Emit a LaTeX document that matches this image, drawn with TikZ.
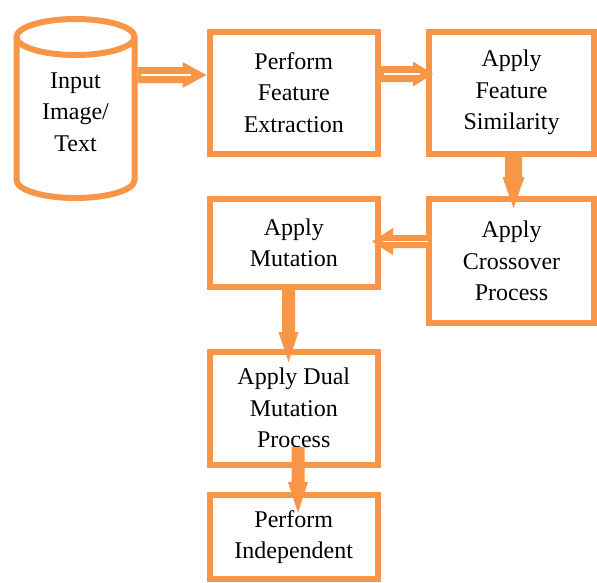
\documentclass[tikz,border=0pt]{standalone}
\usepackage{fontspec}
\setmainfont{Liberation Serif}
\usetikzlibrary{calc}
\definecolor{orng}{HTML}{F79646}
% block arrow: #1 start, #2 tip, #3 shaft half width, #4 head half width, #5 head length
\newcommand\blockarr[5]{%
  \coordinate (hb) at ($(#2)!#5!(#1)$);
  \fill[arrowc] ($(#1)!#3!90:(#2)$) -- ($(hb)!#3!-90:(#1)$) -- ($(hb)!#4!-90:(#1)$) -- (#2)
    -- ($(hb)!#4!90:(#1)$) -- ($(hb)!#3!90:(#1)$) -- ($(#1)!#3!-90:(#2)$) -- cycle;}
\begin{document}
\begin{tikzpicture}[x=1pt,y=-1pt,
  txt/.style={align=center, font=\fontsize{24}{31.5}\selectfont, inner sep=0pt},
  box/.style={txt, draw=orng, line width=6pt},
  arrowc/.style={fill=orng},
  wline/.style={draw=white, line width=1.2pt}]
\useasboundingbox (0,0) rectangle (597,582);
\fill[white] (0,0) rectangle (597,582);

% cylinder
\draw[orng, line width=6pt] (75.5,37) ellipse [x radius=59pt, y radius=18pt];
\draw[orng, line width=6pt] (16.5,37) -- (16.5,180)
  arc[start angle=180, end angle=360, x radius=59pt, y radius=18pt] -- (134.5,37);
\node[txt, minimum width=124pt, minimum height=150pt] (cyl) at (75.5,112) {Input\\Image/\\Text};

% boxes
\node[box, minimum width=168.5pt, minimum height=122pt] (A) at (293.75,92.5) {Perform\\Feature\\Extraction};
\node[box, minimum width=165pt, minimum height=122pt] (B) at (511.5,92.5) {Apply\\Feature\\Similarity};
\node[box, minimum width=165pt, minimum height=124pt] (C) at (511.5,261) {Apply\\Crossover\\Process};
\node[box, minimum width=168.5pt, minimum height=88pt] (D) at (293.75,243) {Apply\\Mutation};
\node[box, minimum width=168.5pt, minimum height=113.5pt] (E) at (293.75,408.25) {Apply Dual\\Mutation\\Process};
\node[box, minimum width=168.5pt, minimum height=84pt] (F) at (293.75,537) {Perform\\Independent};

% connectors
\coordinate (a1s) at ([yshift=37pt]cyl.east);
\coordinate (a1t) at ([yshift=17.5pt]A.west);
\blockarr{a1s}{a1t}{8pt}{13pt}{24pt}
\draw[wline] ([xshift=3pt]a1s) -- ([xshift=-16pt]a1t);

\coordinate (a2s) at ([yshift=18.5pt]A.east);
\coordinate (a2t) at ([yshift=18.5pt,xshift=7pt]B.west);
\blockarr{a2s}{a2t}{8pt}{12.5pt}{20pt}
\draw[wline] ([xshift=3pt]a2s) -- ([xshift=-13pt]a2t);

\coordinate (a3s) at ([xshift=2pt]B.south);
\coordinate (a3t) at ([xshift=2pt,yshift=-12pt]C.north);
\blockarr{a3s}{a3t}{8.5pt}{11pt}{31pt}

\coordinate (a4s) at ([yshift=19.5pt]C.west);
\coordinate (a4t) at ([yshift=1.5pt,xshift=-9pt]D.east);
\blockarr{a4s}{a4t}{6.5pt}{13.5pt}{21pt}
\draw[wline] ([xshift=2pt]a4s) -- ([xshift=11pt]a4t);

\coordinate (a5s) at ([xshift=-5.25pt]D.south);
\coordinate (a5t) at ([xshift=-5.25pt,yshift=-13.5pt]E.north);
\blockarr{a5s}{a5t}{6.5pt}{10pt}{30pt}

\coordinate (a6s) at ([xshift=4.25pt,yshift=21pt]E.south);
\coordinate (a6t) at ([xshift=4.25pt,yshift=-21pt]F.north);
\blockarr{a6s}{a6t}{6.5pt}{10pt}{31pt}
\end{tikzpicture}
\end{document}
